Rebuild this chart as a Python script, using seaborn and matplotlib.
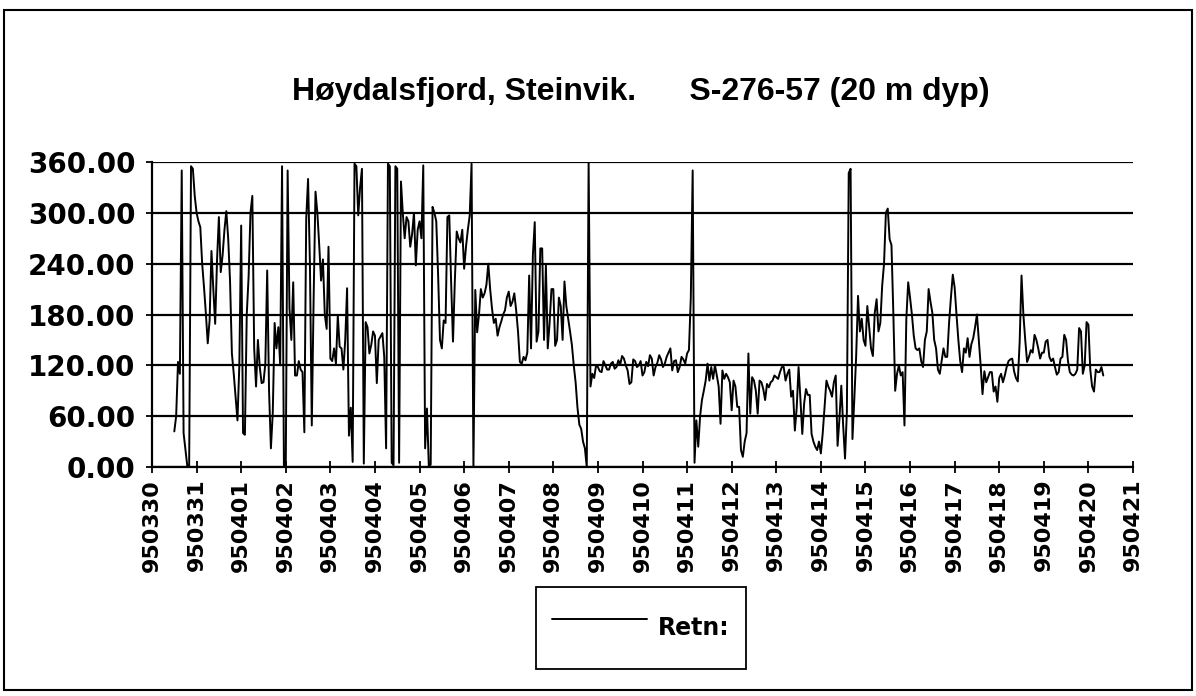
import numpy as np
import pandas as pd
import matplotlib
matplotlib.use("Agg")
import matplotlib.pyplot as plt
import seaborn as sns
from matplotlib.patches import Rectangle

# Tick labels (yymmdd), one per day from 950330 to 950421
date_labels = ["950330", "950331", "950401", "950402", "950403", "950404",
               "950405", "950406", "950407", "950408", "950409", "950410",
               "950411", "950412", "950413", "950414", "950415", "950416",
               "950417", "950418", "950419", "950420", "950421"]

# Current direction (deg), hourly readings starting at 950330 12:00
retn = [
    42, 60, 124, 110, 350, 40, 20, 1, 2, 355, 352, 320,
    300, 290, 283, 240, 212, 181, 146, 173, 255, 210, 169, 244,
    295, 230, 250, 280, 302, 270, 220, 134, 110, 83, 55, 120,
    285, 40, 38, 180, 225, 300, 320, 140, 95, 150, 118, 99,
    100, 122, 232, 90, 22, 64, 170, 140, 165, 120, 355, 2,
    3, 350, 187, 150, 218, 108, 108, 125, 115, 112, 41, 293,
    340, 240, 49, 200, 325, 300, 262, 220, 245, 180, 163, 260,
    128, 125, 140, 122, 179, 142, 140, 115, 150, 211, 37, 70,
    6, 358, 355, 297, 330, 352, 4, 171, 165, 134, 144, 160,
    155, 99, 150, 154, 158, 130, 22, 358, 355, 5, 2, 355,
    352, 5, 337, 299, 270, 295, 290, 260, 275, 300, 238, 280,
    290, 270, 356, 22, 69, 0, 3, 307, 300, 290, 226, 150,
    140, 173, 170, 295, 297, 218, 148, 220, 278, 270, 265, 280,
    234, 260, 280, 297, 358, 0, 209, 159, 180, 210, 200, 205,
    215, 240, 210, 187, 170, 175, 155, 165, 172, 180, 185, 200,
    207, 190, 195, 205, 185, 160, 124, 122, 130, 126, 135, 226,
    140, 250, 289, 148, 160, 258, 258, 150, 238, 140, 170, 210,
    210, 143, 150, 200, 190, 150, 219, 190, 175, 160, 144, 120,
    100, 70, 50, 45, 30, 22, 0, 360, 95, 110, 105, 120,
    118, 113, 112, 125, 120, 115, 115, 122, 124, 116, 118, 126,
    121, 131, 128, 120, 114, 98, 100, 127, 125, 118, 120, 125,
    108, 112, 124, 119, 132, 128, 108, 118, 123, 132, 127, 118,
    122, 130, 135, 140, 114, 125, 126, 112, 118, 130, 127, 122,
    134, 138, 200, 350, 5, 55, 24, 60, 79, 90, 102, 122,
    102, 118, 104, 120, 108, 95, 51, 114, 104, 110, 106, 100,
    67, 102, 95, 71, 71, 20, 12, 30, 40, 134, 63, 106,
    102, 90, 63, 102, 100, 92, 79, 98, 94, 100, 102, 108,
    106, 104, 112, 118, 118, 102, 110, 115, 83, 90, 43, 70,
    118, 80, 39, 75, 92, 85, 85, 39, 30, 24, 20, 30,
    16, 40, 71, 102, 95, 90, 83, 100, 108, 25, 57, 96,
    49, 10, 65, 347, 352, 33, 80, 131, 202, 160, 175, 150,
    143, 190, 165, 140, 131, 182, 198, 160, 170, 214, 240, 300,
    305, 269, 262, 182, 90, 110, 120, 108, 112, 49, 175, 218,
    200, 180, 155, 140, 138, 140, 125, 118, 150, 160, 210, 195,
    182, 150, 140, 115, 110, 125, 140, 130, 130, 170, 200, 227,
    212, 180, 150, 125, 112, 140, 135, 152, 130, 145, 152, 165,
    180, 150, 120, 86, 113, 100, 106, 112, 112, 89, 95, 77,
    105, 110, 100, 108, 118, 125, 127, 128, 113, 105, 101, 148,
    226, 180, 150, 124, 130, 138, 135, 156, 150, 140, 128, 135,
    135, 148, 150, 130, 125, 128, 118, 109, 112, 128, 130, 156,
    150, 125, 112, 109, 108, 110, 115, 164, 160, 110, 120, 171,
    168, 115, 95, 89, 115, 112, 112, 118, 108,
]
start_day = 0.5
step_day = 1 / 24

df = pd.DataFrame({"day": start_day + step_day * np.arange(len(retn)),
                   "Retn:": retn})

sns.set_style("white")
plt.rcParams["font.family"] = ["DejaVu Sans"]
plt.rcParams["text.color"] = "black"
plt.rcParams["xtick.color"] = "black"
plt.rcParams["ytick.color"] = "black"
plt.rcParams["axes.labelcolor"] = "black"

fig = plt.figure(figsize=(11.96, 6.96), dpi=100)
fig.patches.append(Rectangle((4 / 1196, 6 / 696), 1188 / 1196, 680 / 696,
                             transform=fig.transFigure, fill=False,
                             edgecolor="black", linewidth=1.5))

ax = fig.add_axes([152 / 1196, 1 - 467 / 696, 981 / 1196, 305 / 696])
sns.lineplot(data=df, x="day", y="Retn:", color="black", linewidth=1.4,
             ax=ax, label="Retn:")

ax.set_xlim(0, len(date_labels) - 1)
ax.set_ylim(0, 360)
ax.set_yticks(np.arange(0, 361, 60))
ax.set_yticklabels([f"{v:.2f}" for v in range(0, 361, 60)],
                   fontsize=20, fontweight="bold")
ax.set_xticks(np.arange(len(date_labels)))
ax.set_xticklabels(date_labels, rotation=90, fontsize=16, fontweight="bold")
ax.set_xlabel("")
ax.set_ylabel("")
ax.yaxis.grid(True, color="black", linewidth=1.6)
ax.xaxis.grid(False)
for s in ["top", "right"]:
    ax.spines[s].set_visible(False)
for s in ["left", "bottom"]:
    ax.spines[s].set_color("black")
    ax.spines[s].set_linewidth(1.6)
ax.tick_params(axis="x", direction="inout", length=9, width=1.3, pad=4,
               colors="black", bottom=True)
ax.tick_params(axis="y", direction="out", length=4, width=1.3, pad=8,
               colors="black", left=True)

leg = ax.legend(loc="center", bbox_to_anchor=(641 / 1196, 1 - 628 / 696),
                bbox_transform=fig.transFigure, fancybox=False,
                edgecolor="black", framealpha=1, borderpad=0.7,
                handlelength=4.0, handleheight=2.8, handletextpad=0.5,
                prop={"size": 17, "weight": "bold"})
leg.get_frame().set_linewidth(1.3)

fig.text(641 / 1196, 1 - 92 / 696,
         "Høydalsfjord, Steinvik.      S-276-57 (20 m dyp)",
         ha="center", va="center", fontsize=23, fontweight="bold",
         color="black", family=["Liberation Sans", "DejaVu Sans"])

fig.savefig("out.png", dpi=100)
